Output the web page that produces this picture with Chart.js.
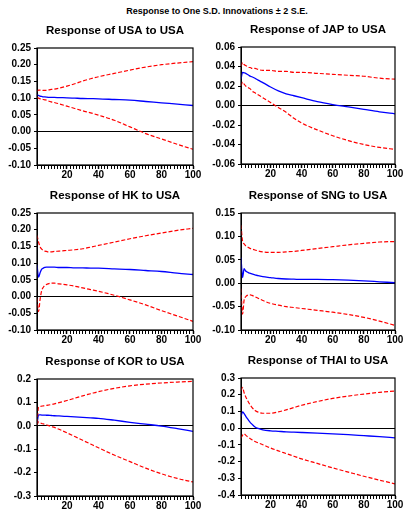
<!DOCTYPE html>
<html>
<head>
<meta charset="utf-8">
<script src="https://cdn.jsdelivr.net/npm/chart.js@4.4.1/dist/chart.umd.min.js"></script>
<style>
  html, body { margin: 0; padding: 0; background: #fff; width: 403px; height: 511px; overflow: hidden; position: relative; }
  canvas { position: absolute; }
  #heading { position: absolute; left: 117px; top: 5px; width: 200px; text-align: center; white-space: nowrap;
             font: bold 9px 'Liberation Sans', Arial, sans-serif; line-height: 12px; color: #000; }
</style>
</head>
<body>
<div id="heading">Response to One S.D. Innovations ± 2 S.E.</div>
<script>
// periods (x axis 1..100)
const periods = [1,2,3,4,5,6,7,8,10,12,15,20,25,30,35,40,50,60,70,80,90,100];

// Response of USA to USA
const usaResp  = [0.111,0.108,0.106,0.105,0.104,0.1035,0.103,0.1025,0.102,0.102,0.1015,0.101,0.100,0.099,0.0985,0.098,0.096,0.094,0.090,0.086,0.082,0.078];
const usaUpper = [0.120,0.124,0.124,0.124,0.123,0.123,0.123,0.124,0.126,0.127,0.130,0.136,0.143,0.151,0.158,0.164,0.174,0.184,0.193,0.200,0.205,0.209];
const usaLower = [0.102,0.100,0.098,0.097,0.096,0.095,0.094,0.092,0.089,0.087,0.083,0.076,0.069,0.062,0.056,0.049,0.034,0.014,-0.006,-0.022,-0.038,-0.053];

// Response of JAP to USA
const japResp  = [0.027,0.034,0.0335,0.033,0.032,0.031,0.030,0.0295,0.028,0.026,0.0235,0.019,0.015,0.012,0.010,0.008,0.004,0.001,-0.0015,-0.004,-0.0065,-0.0085];
const japUpper = [0.040,0.044,0.042,0.041,0.040,0.039,0.039,0.038,0.038,0.037,0.036,0.036,0.035,0.035,0.034,0.034,0.033,0.032,0.031,0.030,0.028,0.027];
const japLower = [0.020,0.024,0.022,0.020,0.019,0.018,0.017,0.015,0.013,0.011,0.008,0.003,-0.002,-0.007,-0.013,-0.018,-0.025,-0.031,-0.036,-0.040,-0.043,-0.045];

// Response of HK to USA
const hkResp  = [0.095,0.058,0.072,0.082,0.085,0.087,0.088,0.088,0.088,0.088,0.087,0.087,0.086,0.086,0.085,0.085,0.083,0.081,0.078,0.075,0.070,0.066];
const hkUpper = [0.183,0.163,0.148,0.142,0.138,0.136,0.135,0.134,0.134,0.135,0.136,0.138,0.140,0.143,0.148,0.153,0.163,0.173,0.182,0.190,0.198,0.204];
const hkLower = [-0.005,-0.045,-0.007,0.018,0.028,0.033,0.036,0.038,0.040,0.040,0.038,0.035,0.031,0.026,0.021,0.016,0.004,-0.010,-0.025,-0.042,-0.058,-0.074];

// Response of SNG to USA
const sngResp  = [0.055,0.012,0.031,0.026,0.024,0.022,0.021,0.020,0.018,0.016,0.014,0.012,0.010,0.009,0.0085,0.008,0.008,0.0075,0.0065,0.005,0.003,0.001];
const sngUpper = [0.124,0.090,0.084,0.080,0.078,0.076,0.074,0.073,0.071,0.069,0.067,0.066,0.066,0.067,0.068,0.070,0.074,0.078,0.082,0.085,0.088,0.089];
const sngLower = [-0.012,-0.066,-0.036,-0.029,-0.026,-0.025,-0.025,-0.026,-0.029,-0.032,-0.037,-0.043,-0.047,-0.050,-0.052,-0.054,-0.058,-0.062,-0.067,-0.073,-0.081,-0.090];

// Response of KOR to USA
const korResp  = [0.007,0.047,0.047,0.046,0.046,0.046,0.045,0.045,0.044,0.043,0.042,0.040,0.038,0.036,0.034,0.032,0.024,0.015,0.007,-0.001,-0.012,-0.024];
const korUpper = [0.012,0.080,0.083,0.084,0.085,0.086,0.087,0.088,0.091,0.094,0.099,0.108,0.118,0.128,0.137,0.146,0.160,0.171,0.178,0.183,0.187,0.190];
const korLower = [0.003,0.017,0.013,0.010,0.008,0.006,0.004,0.002,-0.003,-0.007,-0.015,-0.030,-0.046,-0.062,-0.078,-0.094,-0.125,-0.153,-0.181,-0.205,-0.225,-0.240];

// Response of THAI to USA
const thaiResp  = [0.070,0.097,0.087,0.072,0.058,0.045,0.033,0.024,0.007,-0.002,-0.010,-0.016,-0.019,-0.022,-0.024,-0.026,-0.030,-0.034,-0.039,-0.045,-0.051,-0.058];
const thaiUpper = [0.225,0.244,0.212,0.188,0.169,0.152,0.137,0.124,0.106,0.096,0.089,0.089,0.097,0.109,0.123,0.137,0.159,0.178,0.192,0.204,0.214,0.222];
const thaiLower = [-0.060,-0.042,-0.034,-0.042,-0.050,-0.057,-0.063,-0.069,-0.080,-0.088,-0.099,-0.119,-0.136,-0.152,-0.168,-0.184,-0.211,-0.238,-0.263,-0.288,-0.311,-0.333];

//------------------------------------------

Chart.defaults.font.family = "'Liberation Sans', Arial, sans-serif";
Chart.defaults.font.weight = 'bold';
Chart.defaults.font.size = 10;
Chart.defaults.color = '#000';

// box round the plot area
const frame = {
  id: 'frame',
  afterDatasetsDraw(chart) {
    const {ctx, chartArea: {left, top, width, height}} = chart;
    ctx.save();
    ctx.strokeStyle = '#000';
    ctx.lineWidth = 1.2;
    ctx.strokeRect(left, top, width, height);
    ctx.restore();
  }
};

const panels = [
  {title: 'Response of USA to USA',  min: -0.10, max: 0.25, step: 0.05, dec: 2, resp: usaResp,  upper: usaUpper,  lower: usaLower,  x: 0,   y: 21},
  {title: 'Response of JAP to USA',  min: -0.06, max: 0.06, step: 0.02, dec: 2, resp: japResp,  upper: japUpper,  lower: japLower,  x: 204, y: 20},
  {title: 'Response of HK to USA',   min: -0.10, max: 0.25, step: 0.05, dec: 2, resp: hkResp,   upper: hkUpper,   lower: hkLower,   x: 0,   y: 186},
  {title: 'Response of SNG to USA',  min: -0.10, max: 0.15, step: 0.05, dec: 2, resp: sngResp,  upper: sngUpper,  lower: sngLower,  x: 204, y: 186},
  {title: 'Response of KOR to USA',  min: -0.3,  max: 0.2,  step: 0.1,  dec: 1, resp: korResp,  upper: korUpper,  lower: korLower,  x: 0,   y: 352},
  {title: 'Response of THAI to USA', min: -0.4,  max: 0.3,  step: 0.1,  dec: 1, resp: thaiResp, upper: thaiUpper, lower: thaiLower, x: 204, y: 351}
];

function band(data) {
  return {data: data, borderColor: '#ff0000', borderWidth: 1.2, borderDash: [4, 2], pointRadius: 0, cubicInterpolationMode: 'monotone'};
}

panels.forEach(function (p) {
  const cv = document.createElement('canvas');
  const w = p.x === 0 ? 203 : 201;
  cv.width = w; cv.height = 159;
  cv.style.left = p.x + 'px'; cv.style.top = p.y + 'px';
  cv.style.width = w + 'px'; cv.style.height = '159px';
  document.body.appendChild(cv);

  new Chart(cv, {
    type: 'line',
    data: {
      labels: periods,
      datasets: [
        band(p.upper),
        band(p.lower),
        {data: p.resp, borderColor: '#0000ff', borderWidth: 1.3, pointRadius: 0, cubicInterpolationMode: 'monotone'}
      ]
    },
    options: {
      responsive: false,
      animation: false,
      events: [],
      layout: {padding: {left: 0, right: 10, top: 0, bottom: 0}},
      plugins: {
        legend: {display: false},
        tooltip: {enabled: false},
        title: {display: true, text: p.title, fullSize: false, font: {size: 11.5, weight: 'bold'}, padding: {top: 2.5, bottom: 10.7}, color: '#000'}
      },
      scales: {
        x: {
          type: 'linear', min: 1, max: 100,
          afterFit: function (s) { s.height = 15; },
          grid: {drawOnChartArea: false, tickColor: '#000', tickLength: 4,
                 tickWidth: function (c) { return c.tick && c.tick.value % 20 === 0 ? 1.5 : 1; }},
          border: {color: '#000', width: 1},
          ticks: {stepSize: 2, autoSkip: false, maxTicksLimit: 200, maxRotation: 0, padding: 0,
                  callback: function (v) { return v % 20 === 0 ? String(v) : ''; }}
        },
        y: {
          min: p.min, max: p.max,
          afterFit: function (s) { s.width = 37; },
          grid: {tickColor: '#000', tickLength: 3,
                 color: function (c) { return Math.abs(c.tick.value) < 1e-9 ? '#000' : 'rgba(0,0,0,0)'; }},
          border: {color: '#000', width: 1},
          ticks: {stepSize: p.step, padding: 3,
                  callback: function (v) { return (Math.abs(v) < 1e-9 ? 0 : v).toFixed(p.dec); }}
        }
      }
    },
    plugins: [frame]
  });
});
</script>
</body>
</html>
